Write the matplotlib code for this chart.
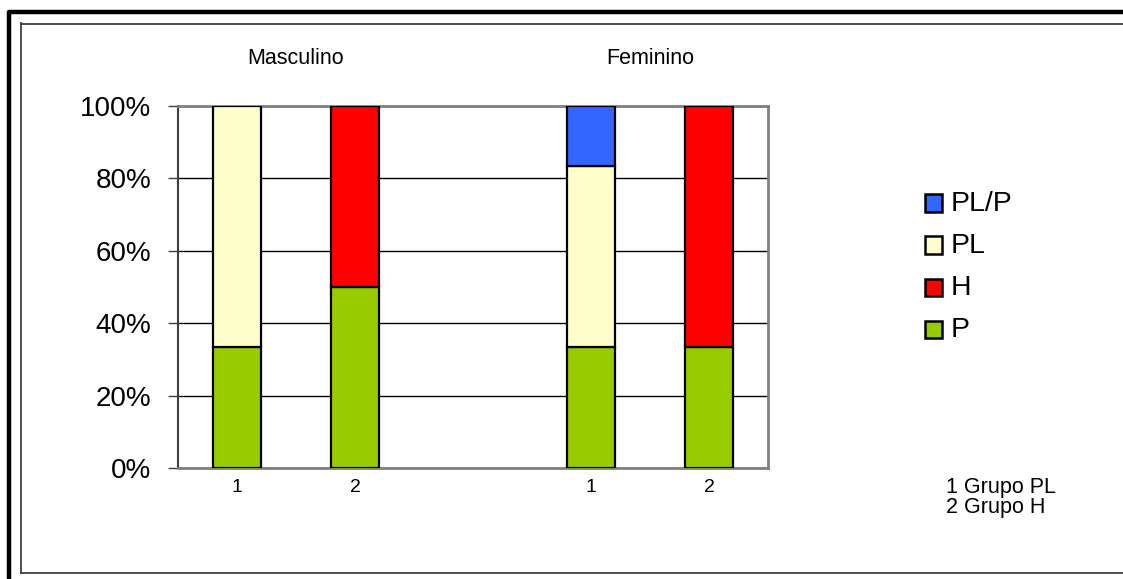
import matplotlib
matplotlib.use("Agg")
import matplotlib.pyplot as plt
from matplotlib.patches import Rectangle
from matplotlib.lines import Line2D
from matplotlib.transforms import blended_transform_factory
import numpy as np

plt.rcParams['font.family'] = ['Liberation Sans', 'DejaVu Sans']

# Bar slots: Masculino groups 1, 2, an empty gap, then Feminino groups 1, 2
tick_labels = ["1", "2", "", "1", "2"]
group_titles = ["Masculino", "Feminino"]
series = ["P", "H", "PL", "PL/P"]
colors = {"P": "#99CC00", "H": "#FF0000", "PL": "#FFFFCC", "PL/P": "#3366FF"}
# Percentages per slot (None = empty slot)
P_vals = [33.3, 50.0, None, 33.3, 33.3]
H_vals = [0.0, 50.0, None, 0.0, 66.7]
PL_vals = [66.7, 0.0, None, 50.0, 0.0]
PLP_vals = [0.0, 0.0, None, 16.7, 0.0]
legend_order = ["PL/P", "PL", "H", "P"]
notes = ["1 Grupo PL", "2 Grupo H"]

W, H = 1123, 579
fig = plt.figure(figsize=(W / 100, H / 100), dpi=100)
fig.patch.set_facecolor("white")

ax = fig.add_axes([178 / W, (H - 468) / H, 590 / W, 362 / H])
x = np.arange(len(tick_labels))
values = {"P": P_vals, "H": H_vals, "PL": PL_vals, "PL/P": PLP_vals}
bottom = np.zeros(len(x))
for name in series:
    vals = np.array([v if v is not None else 0.0 for v in values[name]])
    mask = vals > 0
    ax.bar(x[mask], vals[mask], width=0.41, bottom=bottom[mask],
           color=colors[name], edgecolor="black", linewidth=1.6, zorder=3)
    bottom += vals

ax.set_xlim(-0.5, len(x) - 0.5)
ax.set_ylim(0, 100)
ax.set_yticks(np.arange(0, 101, 20))
ax.set_yticklabels([f"{v}%" for v in range(0, 101, 20)], fontsize=20)
ax.set_xticks(x)
ax.set_xticklabels(tick_labels, fontsize=14)
ax.tick_params(axis="x", length=0, pad=8)
ax.tick_params(axis="y", direction="out", length=7, width=1, pad=12, color="#404040")
ax.yaxis.grid(True, color="black", linewidth=1.0, zorder=1)
ax.set_axisbelow(True)
for side in ["top", "right", "bottom"]:
    ax.spines[side].set_color("#808080")
    ax.spines[side].set_linewidth(2)
ax.spines["left"].set_color("#404040")
ax.spines["left"].set_linewidth(1.5)

# Sex group titles above each pair of bars
trans = blended_transform_factory(ax.transData, fig.transFigure)
for cx, title in zip([0.5, 3.5], group_titles):
    ax.text(cx, 1 - 58 / H, title, transform=trans, ha="center", va="center",
            fontsize=15.5)

# Legend with square swatches
for i, name in enumerate(legend_order):
    cy = 203 + i * 42
    fig.patches.append(Rectangle((925 / W, 1 - (cy + 8.5) / H), 17 / W, 17 / H,
                                 transform=fig.transFigure, facecolor=colors[name],
                                 edgecolor="black", linewidth=1.8))
    fig.text(951 / W, 1 - (cy + 1) / H, name, fontsize=20.5, va="center", ha="left")

for i, note in enumerate(notes):
    fig.text(946 / W, 1 - (487 + i * 21) / H, note, fontsize=15.5,
             va="center", ha="left")

# Outer thick frame and inner thin frame
def fline(xs, ys, **kw):
    fig.lines.append(Line2D([v / W for v in xs], [1 - v / H for v in ys],
                            transform=fig.transFigure, **kw))

fline([9, 9, W + 5], [H + 5, 12, 12], color="black", linewidth=3.2,
      solid_capstyle="butt")
fline([21, 21], [23, 573], color="#404040", linewidth=1.3)
fline([21, W + 5], [23.5, 23.5], color="#404040", linewidth=1.3)
fline([21, W + 5], [573, 573], color="#404040", linewidth=1.3)

fig.savefig("out.png", dpi=100)
